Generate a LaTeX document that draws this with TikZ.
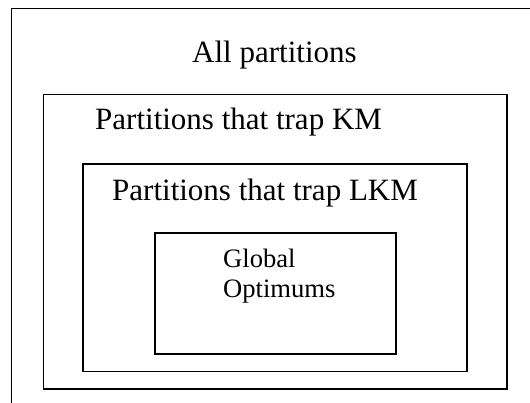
\documentclass[tikz,border=0pt]{standalone}
\usepackage{fontspec}
\setmainfont{Liberation Serif}
\begin{document}
\begin{tikzpicture}[x=1bp,y=-1bp,
  setbox/.style={draw=black,line width=1.8bp},
  biglabel/.style={anchor=base west,inner sep=0pt,font=\fontsize{31bp}{35bp}\selectfont},
  smalllabel/.style={anchor=base west,inner sep=0pt,font=\fontsize{26.6bp}{30bp}\selectfont}]
\useasboundingbox (0,0) rectangle (530,402);
% outer set (clipped at right and bottom)
\draw[setbox] (11.5,410) -- (11.5,8.5) -- (540,8.5);
\draw[setbox] (43.5,94.5) rectangle (507,389);
\draw[setbox] (83,164) rectangle (467,371.5);
\draw[setbox] (155,233) rectangle (396,354);
\node[biglabel] (all) at (192,62) {All partitions};
\node[biglabel] (km) at (95,129) {Partitions that trap KM};
\node[biglabel] (lkm) at (112,200) {Partitions that trap LKM};
\node[smalllabel] (g1) at (223,267) {Global};
\node[smalllabel] (g2) at (223,297) {Optimums};
\end{tikzpicture}
\end{document}
